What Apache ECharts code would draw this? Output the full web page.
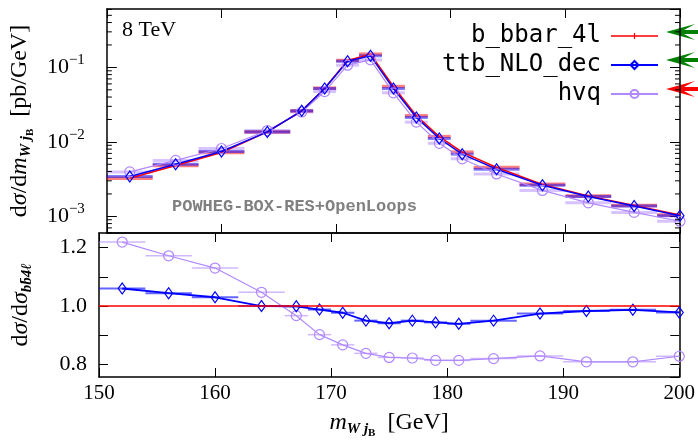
<!DOCTYPE html>
<html>
<head>
<meta charset="utf-8">
<script src="https://cdn.jsdelivr.net/npm/echarts@6/dist/echarts.min.js"></script>
<style>
  html, body { margin: 0; padding: 0; background: #fff; }
  #chart { width: 698px; height: 440px; }
</style>
</head>
<body>
<div id="chart"></div>
<script>
// Bin edges of the m_{W j_B} histogram [GeV]
const binEdges = [150, 154, 158, 162, 166, 168, 170, 172, 174, 176, 178, 180, 182, 186, 190, 194, 198, 202];

// dσ/dm [pb/GeV] per bin
const bb4l   = [3.24e-3, 4.81e-3, 7.21e-3, 1.36e-2, 2.61e-2, 5.26e-2, 0.1238, 0.1505, 0.0553, 0.0224, 0.01176, 7.28e-3, 4.53e-3, 2.69e-3, 1.88e-3, 1.40e-3, 1.04e-3];
const ttbNLO = [3.43e-3, 5.02e-3, 7.43e-3, 1.36e-2, 2.61e-2, 5.20e-2, 0.121, 0.143, 0.052, 0.0213, 0.0111, 6.84e-3, 4.30e-3, 2.62e-3, 1.85e-3, 1.38e-3, 1.02e-3];
const hvq    = [3.95e-3, 5.64e-3, 8.15e-3, 1.42e-2, 2.52e-2, 4.74e-2, 0.107, 0.126, 0.0456, 0.0184, 9.57e-3, 5.93e-3, 3.71e-3, 2.23e-3, 1.52e-3, 1.13e-3, 8.6e-4];

// Ratios to b_bbar_4l
const ratioTtb = [1.060, 1.044, 1.030, 1.000, 0.999, 0.988, 0.977, 0.950, 0.941, 0.950, 0.944, 0.939, 0.950, 0.974, 0.983, 0.987, 0.978];
const ratioHvq = [1.219, 1.172, 1.130, 1.047, 0.967, 0.902, 0.867, 0.838, 0.824, 0.822, 0.814, 0.814, 0.820, 0.829, 0.809, 0.809, 0.828];

// Axis ranges and labels
const xRange = [150, 200];
const logRange = [5.98e-4, 0.608];
const ratioRange = [0.757, 1.25];
const seriesNames = ['b_bbar_4l', 'ttb_NLO_dec', 'hvq'];

const RED = '#ff0000', BLUE = '#0000ff', LAV = '#b088ff';
const SERIF = 'Liberation Serif';

const centres = binEdges.slice(0, -1).map((lo, i) => (lo + binEdges[i + 1]) / 2);
const pts = vals => vals.map((v, i) => [centres[i], v]);

// horizontal bin-width bars
function binBars(vals, xi, yi, color, width) {
  return {
    type: 'custom', xAxisIndex: xi, yAxisIndex: yi, silent: true, clip: true, z: 2,
    data: vals.map((v, i) => [binEdges[i], binEdges[i + 1], v]),
    encode: { x: [0, 1], y: 2 },
    renderItem: (params, api) => {
      const a = api.coord([api.value(0), api.value(2)]);
      const b = api.coord([api.value(1), api.value(2)]);
      return { type: 'line', shape: { x1: a[0], y1: a[1], x2: b[0], y2: b[1] },
               style: { stroke: color, lineWidth: width } };
    }
  };
}

// log-axis minor ticks (2..9 per decade), on both vertical edges
const minorVals = [];
for (let e = -4; e < 0; e++) for (let m = 2; m <= 9; m++) {
  const v = m * Math.pow(10, e);
  if (v > logRange[0] && v < logRange[1]) minorVals.push(v);
}
const minorTicks = {
  type: 'custom', xAxisIndex: 0, yAxisIndex: 0, silent: true, clip: false, z: 5,
  data: minorVals.map(v => [xRange[0], v]),
  encode: { x: 0, y: 1 },
  renderItem: (params, api) => {
    const l = api.coord([xRange[0], api.value(1)]);
    const r = api.coord([xRange[1], api.value(1)]);
    const st = { stroke: '#000', lineWidth: 1 };
    return { type: 'group', children: [
      { type: 'line', shape: { x1: l[0], y1: l[1], x2: l[0] + 5, y2: l[1] }, style: st },
      { type: 'line', shape: { x1: r[0], y1: r[1], x2: r[0] - 5, y2: r[1] }, style: st }
    ] };
  }
};

function lineSeries(name, vals, xi, yi, color, width, symbol, size, hollow) {
  return {
    type: 'line', name, xAxisIndex: xi, yAxisIndex: yi, data: pts(vals),
    symbol, symbolSize: size, showSymbol: symbol !== 'none', clip: true, z: 3,
    lineStyle: { color, width },
    itemStyle: hollow ? { color: 'rgba(255,255,255,0)', borderColor: color, borderWidth: 1.2 }
                      : { color },
    emphasis: { disabled: true }
  };
}

const axisLineSt = { show: true, onZero: false, lineStyle: { color: '#000', width: 1.5 } };
const tickIn = len => ({ show: true, inside: true, length: len, lineStyle: { color: '#000', width: 1 } });

const titleRich = {
  a:  { fontFamily: SERIF, fontSize: 24, color: '#000' },
  i:  { fontFamily: SERIF, fontSize: 24, color: '#000', fontStyle: 'italic' },
  s:  { fontFamily: SERIF, fontSize: 15, color: '#000', fontStyle: 'italic', fontWeight: 'bold', padding: [13, 0, 0, 0] },
  ss: { fontFamily: SERIF, fontSize: 11, color: '#000', fontWeight: 'bold', padding: [21, 0, 0, 0] }
};

function xAx(grid, pos, withLabels) {
  return {
    type: 'value', gridIndex: grid, position: pos, min: xRange[0], max: xRange[1], interval: 10,
    axisLine: axisLineSt, axisTick: tickIn(9), splitLine: { show: false },
    axisLabel: withLabels ? { show: true, margin: 6, fontFamily: SERIF, fontSize: 21, color: '#000' } : { show: false },
    name: withLabels ? '{i|m}{s|W j}{ss|B}{a|  [GeV]}' : '',
    nameLocation: 'middle', nameGap: 30,
    nameTextStyle: { rich: titleRich }
  };
}

const logLabel = v => {
  const e = Math.log10(v), r = Math.round(e);
  if (Math.abs(e - r) > 1e-6) return '';
  return '{b|10}{e|\u2212' + (-r) + '}';
};
const ratioLabel = v => {
  const k = Math.round(v * 10);
  if (Math.abs(v * 10 - k) > 1e-6 || k % 2 !== 0) return '';
  return v.toFixed(1);
};

// legend icon for the red entry: a line with a small vertical tick in the middle
const redLegendIcon = 'path://M0,4.25 L47,4.25 L47,5.75 L0,5.75 Z M22.9,2 L24.1,2 L24.1,8 L22.9,8 Z';

const option = {
  animation: false,
  backgroundColor: '#fff',
  grid: [
    { left: 99, right: 18, top: 9, height: 224 },
    { left: 99, right: 18, top: 233, height: 148 }
  ],
  xAxis: [xAx(0, 'bottom', false), xAx(0, 'top', false), xAx(1, 'bottom', true), xAx(1, 'top', false)],
  yAxis: [
    {
      type: 'log', logBase: 10, gridIndex: 0, position: 'left', min: logRange[0], max: logRange[1],
      axisLine: axisLineSt, axisTick: tickIn(10), splitLine: { show: false }, minorTick: { show: false },
      axisLabel: { show: true, margin: 22, formatter: logLabel, showMinLabel: false, showMaxLabel: false,
        rich: { b: { fontFamily: SERIF, fontSize: 22, color: '#000' },
                e: { fontFamily: SERIF, fontSize: 15, color: '#000', padding: [0, 0, 14, 0] } } },
      name: '{a|d}{i|σ}{a|/d}{i|m}{s|W j}{ss|B}{a|  [pb/GeV]}',
      nameLocation: 'middle', nameRotate: 90, nameGap: 64, nameTextStyle: { rich: titleRich }
    },
    {
      type: 'log', logBase: 10, gridIndex: 0, position: 'right', min: logRange[0], max: logRange[1],
      axisLine: axisLineSt, axisTick: tickIn(10), splitLine: { show: false }, axisLabel: { show: false }
    },
    {
      type: 'value', gridIndex: 1, position: 'left', min: ratioRange[0], max: ratioRange[1],
      minInterval: 0.1, maxInterval: 0.1, splitNumber: 5,
      axisLine: axisLineSt, axisTick: tickIn(9), splitLine: { show: false },
      axisLabel: { show: true, margin: 12, formatter: ratioLabel, showMinLabel: false, showMaxLabel: false,
        fontFamily: SERIF, fontSize: 22, color: '#000' },
      name: '{a|d}{i|σ}{a|/d}{i|σ}{s|bb̄4ℓ}',
      nameLocation: 'middle', nameRotate: 90, nameGap: 64, nameTextStyle: { rich: titleRich }
    },
    {
      type: 'value', gridIndex: 1, position: 'right', min: ratioRange[0], max: ratioRange[1],
      minInterval: 0.1, maxInterval: 0.1, splitNumber: 5,
      axisLine: axisLineSt, axisTick: tickIn(9), splitLine: { show: false }, axisLabel: { show: false }
    }
  ],
  legend: {
    data: [
      { name: seriesNames[0], icon: redLegendIcon },
      { name: seriesNames[1] },
      { name: seriesNames[2] }
    ],
    orient: 'vertical', right: 34, top: 19, align: 'right',
    itemWidth: 47, itemHeight: 10, itemGap: 5, selectedMode: false,
    textStyle: { fontFamily: 'DejaVu Sans Mono', fontSize: 24, color: '#000', lineHeight: 24, padding: [0, 5, 0, 0] }
  },
  graphic: [
    { type: 'text', left: 122, top: 19, style: { text: '8 TeV', font: '22px "Liberation Serif"', fill: '#000' } },
    { type: 'text', left: 172, top: 198,
      style: { text: 'POWHEG-BOX-RES+OpenLoops', font: 'bold 17px "Liberation Mono"', fill: '#808080' } },
    { type: 'polygon', shape: { points: [[666, 32], [695, 24], [684, 30], [698, 30], [698, 34], [684, 34], [695, 40]] }, style: { fill: '#008000' } },
    { type: 'polygon', shape: { points: [[666, 60], [695, 52], [684, 58], [698, 58], [698, 62], [684, 62], [695, 68]] }, style: { fill: '#008000' } },
    { type: 'polygon', shape: { points: [[666, 89], [695, 81], [684, 87], [698, 87], [698, 91], [684, 91], [695, 97]] }, style: { fill: '#ff0000' } }
  ],
  series: [
    minorTicks,
    binBars(hvq, 0, 0, 'rgba(176,136,255,0.5)', 3),
    binBars(bb4l, 0, 0, 'rgba(255,0,0,0.5)', 3.5),
    binBars(ttbNLO, 0, 0, 'rgba(0,0,255,0.5)', 3),
    lineSeries('hvq', hvq, 0, 0, LAV, 1.2, 'circle', 10, true),
    lineSeries('b_bbar_4l', bb4l, 0, 0, RED, 1.5, 'none', 0, false),
    lineSeries('ttb_NLO_dec', ttbNLO, 0, 0, BLUE, 1.5, 'diamond', [8, 11], true),

    binBars(ratioHvq, 2, 2, 'rgba(176,136,255,0.6)', 1.5),
    binBars(ratioTtb, 2, 2, 'rgba(0,0,255,0.6)', 2),
    lineSeries('hvq', ratioHvq, 2, 2, LAV, 1.2, 'circle', 10, true),
    Object.assign(lineSeries('ttb_NLO_dec', ratioTtb, 2, 2, BLUE, 1.8, 'diamond', [8, 11], true), {
      markLine: { silent: true, symbol: 'none', label: { show: false },
        lineStyle: { color: RED, width: 1.5, type: 'solid' }, data: [{ yAxis: 1 }] }
    })
  ]
};

const chart = echarts.init(document.getElementById('chart'), null, { renderer: 'canvas' });
chart.setOption(option);
</script>
</body>
</html>
